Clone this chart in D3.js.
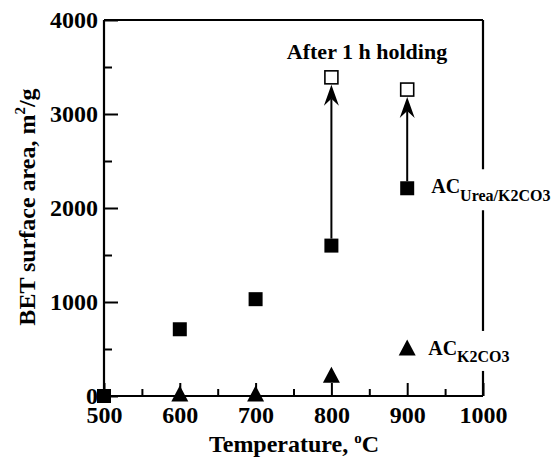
<!DOCTYPE html>
<html>
<head>
<meta charset="utf-8">
<script src="https://cdn.jsdelivr.net/npm/d3@7"></script>
<style>
  html, body { margin: 0; padding: 0; background: #fff; }
  svg { display: block; }
  text { font-family: "Liberation Serif", "Times New Roman", serif; font-weight: bold; fill: #000; }
</style>
</head>
<body>
<svg id="chart" width="558" height="457"></svg>
<script>
// ---- data ----
const ureaTemps = [500, 600, 700, 800, 900];
const ureaValues = [0, 710, 1030, 1600, 2210];
const holdTemps = [800, 900];
const holdValues = [3390, 3260];
const holdStart = [1600, 2210];
const k2co3Temps = [600, 700, 800, 900];
const k2co3Values = [0, 0, 200, 490];
const xTicks = [500, 600, 700, 800, 900, 1000];
const xMinorTicks = [550, 650, 750, 850, 950];
const yTicks = [0, 1000, 2000, 3000, 4000];
const yMinorTicks = [500, 1500, 2500, 3500];

const svg = d3.select("#chart");
const L = 104, R = 483, T = 20, B = 396;
const x = d3.scaleLinear().domain([500, 1000]).range([L, R]);
const y = d3.scaleLinear().domain([0, 4000]).range([B, T]);

// frame: top and right borders
svg.append("line").attr("x1", L).attr("x2", R).attr("y1", T).attr("y2", T)
  .attr("stroke", "#000").attr("stroke-width", 2.2);
svg.append("line").attr("x1", R).attr("x2", R).attr("y1", T).attr("y2", B)
  .attr("stroke", "#000").attr("stroke-width", 2.2);

// y axis
const yAxis = svg.append("g").attr("transform", `translate(${L},0)`)
  .call(d3.axisLeft(y).tickValues(yTicks).tickSize(-14).tickPadding(6).tickFormat(d3.format("d")));
const yMinor = svg.append("g").attr("transform", `translate(${L},0)`)
  .call(d3.axisLeft(y).tickValues(yMinorTicks).tickSize(-8).tickFormat(""));
// x axis
const xAxis = svg.append("g").attr("transform", `translate(0,${B})`)
  .call(d3.axisBottom(x).tickValues(xTicks).tickSize(-13).tickPadding(10).tickFormat(d3.format("d")));
const xMinor = svg.append("g").attr("transform", `translate(0,${B})`)
  .call(d3.axisBottom(x).tickValues(xMinorTicks).tickSize(-7).tickFormat(""));

[yAxis, yMinor, xAxis, xMinor].forEach(g => {
  g.select(".domain").attr("stroke", "#000").attr("stroke-width", 2.2);
  g.selectAll(".tick line").attr("stroke", "#000").attr("stroke-width", 2);
  g.selectAll(".tick text").attr("font-size", 24).attr("font-family", "Liberation Serif, serif")
    .attr("font-weight", "bold").attr("fill", "#000");
});
xAxis.select(".domain").attr("d", `M${L},0H${R}`);
yAxis.select(".domain").attr("d", `M0,${B}V${T}`);
xMinor.select(".domain").remove();
yMinor.select(".domain").remove();

// axis titles
const xt = svg.append("text").attr("x", 294).attr("y", 452).attr("text-anchor", "middle").attr("font-size", 24);
xt.append("tspan").text("Temperature, ");
xt.append("tspan").text("o").attr("font-size", 15).attr("dy", -9);
xt.append("tspan").text("C").attr("dy", 9);

const yt = svg.append("text").attr("transform", "translate(35,207) rotate(-90)")
  .attr("text-anchor", "middle").attr("font-size", 24);
yt.append("tspan").text("BET surface area, m");
yt.append("tspan").text("2").attr("font-size", 15).attr("dy", -10);
yt.append("tspan").text("/g").attr("dy", 10);

// arrows from initial value to after-holding value
holdTemps.forEach((t, i) => {
  const x0 = x(t), yBot = y(holdStart[i]) - 7, yTip = y(holdValues[i]) + 7.5;
  svg.append("line").attr("x1", x0).attr("x2", x0).attr("y1", yBot).attr("y2", yTip + 14)
    .attr("stroke", "#000").attr("stroke-width", 2);
  svg.append("path")
    .attr("d", `M${x0},${yTip} L${x0 - 7.5},${yTip + 21} L${x0},${yTip + 14} L${x0 + 7.5},${yTip + 21} Z`)
    .attr("fill", "#000");
});

// filled squares (AC Urea/K2CO3)
svg.selectAll("rect.urea").data(ureaTemps).join("rect").attr("class", "urea")
  .attr("x", d => x(d) - 7).attr("y", (d, i) => y(ureaValues[i]) - 7)
  .attr("width", 14).attr("height", 14).attr("fill", "#000");

// open squares (after 1 h holding)
svg.selectAll("rect.hold").data(holdTemps).join("rect").attr("class", "hold")
  .attr("x", d => x(d) - 6.5).attr("y", (d, i) => y(holdValues[i]) - 6.5)
  .attr("width", 13).attr("height", 13).attr("fill", "#fff").attr("stroke", "#000").attr("stroke-width", 1.6);

// triangles (AC K2CO3)
svg.selectAll("path.k2").data(k2co3Temps).join("path").attr("class", "k2")
  .attr("d", (d, i) => { const cx = x(d), cy = y(k2co3Values[i]);
    return `M${cx},${cy - 10.5} L${cx - 8.5},${cy + 5.5} L${cx + 8.5},${cy + 5.5} Z`; })
  .attr("fill", "#000");

// annotation
svg.append("text").attr("x", 367).attr("y", 59).attr("text-anchor", "middle").attr("font-size", 22)
  .text("After 1 h holding");

function seriesLabel(px, py, sub, subDy, subSize) {
  const g = svg.append("g");
  const t = g.append("text").attr("x", px).attr("y", py).attr("font-size", 20);
  t.append("tspan").text("AC");
  t.append("tspan").text(sub).attr("font-size", subSize).attr("dy", subDy);
  const bb = t.node().getBBox();
  g.insert("rect", "text").attr("x", bb.x - 2).attr("y", bb.y - 6)
    .attr("width", bb.width + 4).attr("height", bb.height + 12).attr("fill", "#fff");
}
seriesLabel(x(900) + 24, y(ureaValues[4]) + 5, "Urea/K2CO3", 8, 16);
seriesLabel(x(900) + 21, y(k2co3Values[3]) + 5, "K2CO3", 7, 16);
</script>
</body>
</html>
